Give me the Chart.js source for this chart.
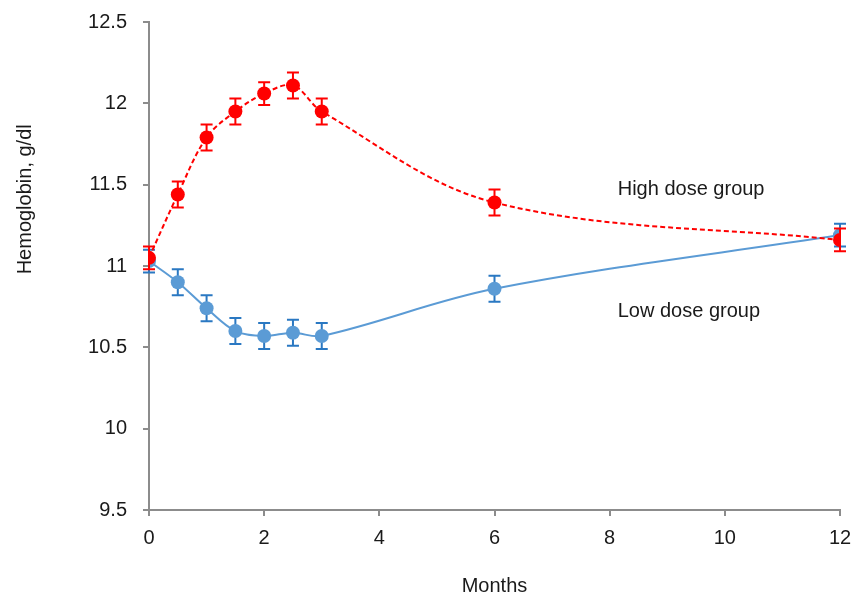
<!DOCTYPE html>
<html>
<head>
<meta charset="utf-8">
<script src="https://cdn.jsdelivr.net/npm/chart.js@4/dist/chart.umd.min.js"></script>
<style>
html,body{margin:0;padding:0;background:#fff;}
#wrap{width:862px;height:598px;position:relative;}
</style>
</head>
<body>
<div id="wrap"><canvas id="c" width="862" height="598"></canvas></div>
<script>
// ---- data ----
const months = [0, 0.5, 1, 1.5, 2, 2.5, 3, 6, 12];
const highDose = [11.05, 11.44, 11.79, 11.95, 12.06, 12.11, 11.95, 11.39, 11.16];
const highErr  = [0.07, 0.08, 0.08, 0.08, 0.07, 0.08, 0.08, 0.08, 0.07];
const lowDose  = [11.03, 10.90, 10.74, 10.60, 10.57, 10.59, 10.57, 10.86, 11.19];
const lowErr   = [0.07, 0.08, 0.08, 0.08, 0.08, 0.08, 0.08, 0.08, 0.07];
const xTicks = [0, 2, 4, 6, 8, 10, 12];
const yTicks = [9.5, 10, 10.5, 11, 11.5, 12, 12.5];
const seriesNames = ['High dose group', 'Low dose group'];
const xTitle = 'Months';
const yTitle = 'Hemoglobin, g/dl';

const FONT = "'Liberation Sans Narrow','Arial Narrow','Liberation Sans',Arial,sans-serif";
const axisGray = '#8c8c8c';

const labelPos = [
  {text: seriesNames[0], x: 8.14, y: 11.47},
  {text: seriesNames[1], x: 8.14, y: 10.72}
];
const yTitlePos = {px: 25, y: 11.41};

const errPlugin = {
  id: 'errbars',
  beforeDatasetDraw(chart, args) {
    const ds = chart.data.datasets[args.index];
    if (!ds.errors) return;
    const xs = chart.scales.x, ys = chart.scales.y, ctx = chart.ctx;
    ctx.save();
    ctx.strokeStyle = ds.errorColor;
    ctx.lineWidth = 2;
    ds.data.forEach((p, i) => {
      const px = xs.getPixelForValue(p.x);
      const t = ys.getPixelForValue(p.y + ds.errors[i]);
      const b = ys.getPixelForValue(p.y - ds.errors[i]);
      ctx.beginPath();
      ctx.moveTo(px, t); ctx.lineTo(px, b);
      ctx.moveTo(px - 6, t); ctx.lineTo(px + 6, t);
      ctx.moveTo(px - 6, b); ctx.lineTo(px + 6, b);
      ctx.stroke();
    });
    ctx.restore();
  },
  afterDraw(chart) {
    const xs = chart.scales.x, ys = chart.scales.y, ctx = chart.ctx;
    ctx.save();
    ctx.fillStyle = '#1a1a1a';
    ctx.font = "20px " + FONT;
    ctx.textBaseline = 'middle';
    ctx.textAlign = 'left';
    labelPos.forEach(l => ctx.fillText(l.text, xs.getPixelForValue(l.x), ys.getPixelForValue(l.y)));
    // y-axis title (placed above centre, as in the original)
    ctx.translate(yTitlePos.px, ys.getPixelForValue(yTitlePos.y));
    ctx.rotate(-Math.PI / 2);
    ctx.textAlign = 'center';
    ctx.fillText(yTitle, 0, 0);
    ctx.restore();
  }
};

new Chart(document.getElementById('c'), {
  type: 'scatter',
  data: {
    datasets: [
      {
        label: seriesNames[0],
        data: months.map((m, i) => ({x: m, y: highDose[i]})),
        errors: highErr,
        errorColor: '#ff0000',
        showLine: true,
        borderColor: '#ff0000',
        borderWidth: 2,
        borderDash: [5, 3],
        tension: 0.35,
        pointRadius: 7,
        pointBackgroundColor: '#ff0000',
        pointBorderColor: '#ff0000',
        pointBorderWidth: 0
      },
      {
        label: seriesNames[1],
        data: months.map((m, i) => ({x: m, y: lowDose[i]})),
        errors: lowErr,
        errorColor: '#2a78c2',
        showLine: true,
        borderColor: '#5b9bd5',
        borderWidth: 2,
        tension: 0.35,
        pointRadius: 7,
        pointBackgroundColor: '#5b9bd5',
        pointBorderColor: '#5b9bd5',
        pointBorderWidth: 0
      }
    ]
  },
  options: {
    responsive: false,
    animation: false,
    layout: {padding: {left: 0, right: 22, top: 22, bottom: 0}},
    plugins: {legend: {display: false}, tooltip: {enabled: false}},
    scales: {
      x: {
        type: 'linear', min: 0, max: 12,
        afterBuildTicks: s => { s.ticks = xTicks.map(v => ({value: v})); },
        afterFit: s => { s.height = 88; s.paddingLeft = 0; s.paddingRight = 0; },
        grid: {drawOnChartArea: false, drawTicks: true, tickLength: 6, color: axisGray, lineWidth: 2},
        border: {color: axisGray, width: 2},
        ticks: {color: '#1a1a1a', font: {family: FONT, size: 20}, padding: 10, maxRotation: 0, callback: v => String(v)},
        title: {display: true, text: xTitle, color: '#1a1a1a', font: {family: FONT, size: 20}, padding: {top: 12, bottom: 0}}
      },
      y: {
        type: 'linear', min: 9.5, max: 12.5,
        afterBuildTicks: s => { s.ticks = yTicks.map(v => ({value: v})); },
        afterFit: s => { s.width = 149; s.paddingTop = 0; s.paddingBottom = 0; },
        grid: {drawOnChartArea: false, drawTicks: true, tickLength: 6, color: axisGray, lineWidth: 2},
        border: {color: axisGray, width: 2},
        ticks: {color: '#1a1a1a', font: {family: FONT, size: 20}, padding: 16, callback: v => String(v)}
      }
    }
  },
  plugins: [errPlugin]
});
</script>
</body>
</html>
